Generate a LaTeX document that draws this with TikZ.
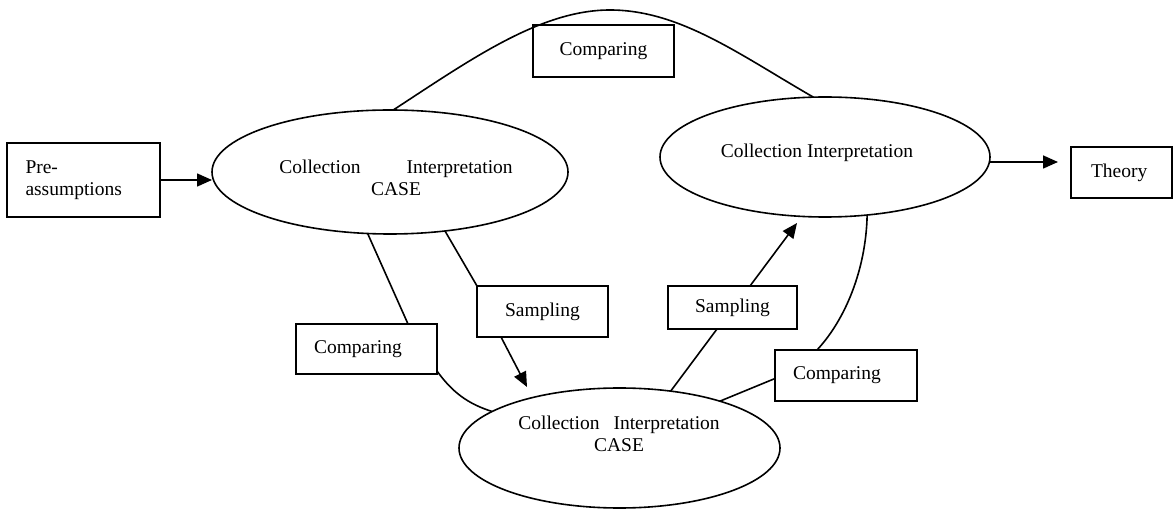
\documentclass[tikz,border=0pt]{standalone}
\usepackage{fontspec}
\setmainfont{Liberation Serif}
\usetikzlibrary{arrows.meta,shapes.geometric}
\begin{document}
\begin{tikzpicture}[x=1pt,y=-1pt,line width=1.6pt,
  every node/.style={font=\fontsize{19.5}{22}\selectfont},
  arr/.style={-{Triangle[length=15pt,width=13pt]}},
  tbox/.style={draw,fill=white,rectangle,inner ysep=0pt,outer sep=0pt},
  lbox/.style={tbox,align=left,inner xsep=18pt},
  cbox/.style={tbox,align=center,inner xsep=0pt},
  oval/.style={draw,ellipse,inner sep=0pt,outer sep=0pt},
  txt/.style={align=center,inner sep=0pt}]
\useasboundingbox (0,0) rectangle (1175,510);

% the three case ellipses
\node[oval,minimum width=356pt,minimum height=124pt] (ellL) at (390,172) {};
\node[oval,minimum width=330pt,minimum height=120pt] (ellR) at (825,157) {};
\node[oval,minimum width=321pt,minimum height=120pt] (ellB) at (619.5,448) {};

\node[txt] (txtL) at (396,178) {Collection\hspace{46pt}Interpretation\\CASE};
\node[txt] (txtR) at (817,153) {Collection Interpretation};
\node[txt] (txtB) at (619,434) {Collection\hspace{14pt}Interpretation\\CASE};

% boxes
\node[lbox,text width=116pt,minimum height=74pt,inner xsep=18.5pt] (pre) at (83.5,180) {Pre-\\assumptions};
\node[lbox,text width=61pt,minimum height=51pt,inner xsep=20pt] (thy) at (1121.5,172.5) {Theory};
\node[cbox,minimum width=141pt,minimum height=52pt] (cmpT) at (603.5,51) {Comparing};
\node[cbox,minimum width=131pt,minimum height=51pt] (sampL) at (542.5,311.5) {Sampling};
\node[cbox,minimum width=129pt,minimum height=43pt] (sampR) at (732.5,307.5) {Sampling};
\node[lbox,text width=105pt,minimum height=50pt] (cmpL) at (366.5,349) {Comparing};
\node[lbox,text width=106pt,minimum height=51pt] (cmpR) at (846,375.5) {Comparing};

% free arrow ends
\coordinate (tipL) at (527,387);
\coordinate (tipR) at (797,223);
\coordinate (tipT) at (1058,162);

% connectors
\draw[arr] (pre.east) -- (pre.east -| ellL.west);
\draw[arr] (ellR.east |- tipT) -- (tipT);

\draw (ellL.87.3) .. controls (470,60) and (540,10) .. (610,10)
      .. controls (680,10) and (740,55) .. (ellR.101.1);

\draw (ellL.250.2) -- ([xshift=-29pt]cmpL.north east);
\draw (ellL.313.1) -- (sampL.north west);
\draw[arr] ([xshift=-41.5pt]sampL.south) -- (tipL);
\draw ([yshift=3pt]cmpL.south east) .. controls (452,392) and (468,404) .. (ellB.164.5);

\draw (ellB.48.8) -- ([xshift=-15.5pt]sampR.south);
\draw[arr] ([xshift=17.5pt]sampR.north) -- (tipR);
\draw ([yshift=-3pt]cmpR.west) -- (ellB.25.4);
\draw (ellR.306.3) .. controls (866,270) and (845,320) .. ([xshift=-29pt]cmpR.north);
\end{tikzpicture}
\end{document}
